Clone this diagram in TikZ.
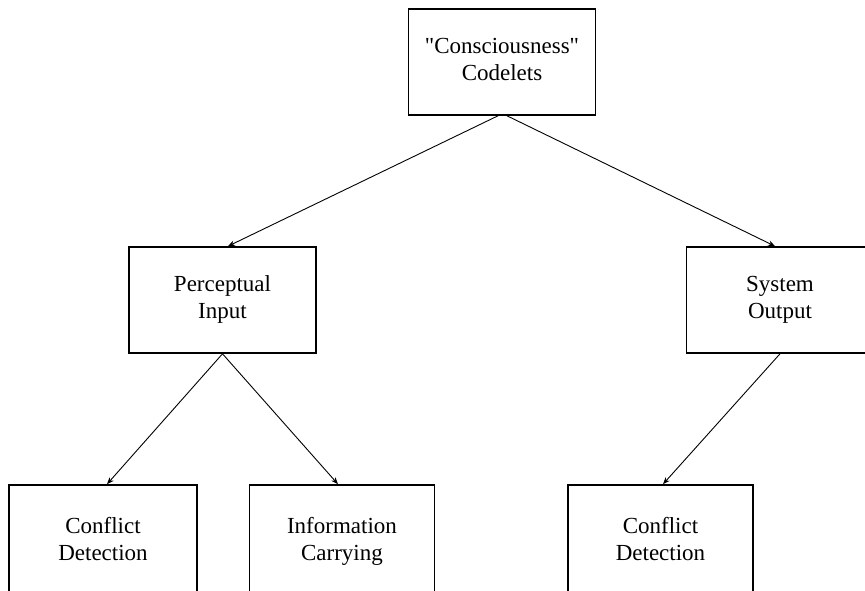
\documentclass[tikz,border=0pt]{standalone}
\usepackage{fontspec}
\setmainfont{Liberation Serif}[Ligatures=TeXOff]
\usetikzlibrary{arrows.meta,calc}
\tikzset{
  box/.style={draw=black, line width=1.6pt, minimum width=187pt, minimum height=106pt,
    inner sep=0pt, align=center, font=\fontsize{23}{27}\selectfont},
  lowbox/.style={box, minimum height=114pt},
  link/.style={line width=0.9pt, -{Stealth[length=7pt,width=5.5pt]}}
}
\begin{document}
\begin{tikzpicture}[x=1pt,y=-1pt]
\clip (0,0) rectangle (865,590);
\fill[white] (0,0) rectangle (865,590);
\node[box] (top) at (502,62) {"Consciousness"\strut\\Codelets\strut};
\node[box] (pi) at (222.5,300) {Perceptual\strut\\Input\strut};
\node[box] (so) at (780,300) {System\strut\\Output\strut};
\node[lowbox, minimum width=188pt] (cd1) at (103,542) {Conflict\strut\\Detection\strut};
\node[lowbox, minimum width=185pt] (ic) at (342,542) {Information\strut\\Carrying\strut};
\node[lowbox, minimum width=185pt] (cd2) at (660.5,542) {Conflict\strut\\Detection\strut};
\draw[link] ($(top.south)+(-4,0)$) -- ($(pi.north)+(5.5,0)$);
\draw[link] ($(top.south)+(5,0)$) -- ($(so.north)+(-5,0)$);
\draw[link] (pi.south) -- ($(cd1.north)+(4,0)$);
\draw[link] (pi.south) -- ($(ic.north)+(-4,0)$);
\draw[link] (so.south) -- ($(cd2.north)+(2.5,0)$);
\end{tikzpicture}
\end{document}
